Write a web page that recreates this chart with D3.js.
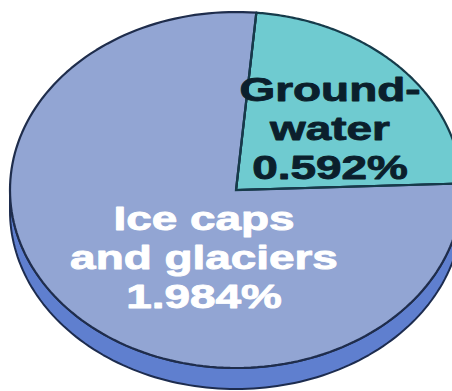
<!DOCTYPE html>
<html>
<head>
<meta charset="utf-8">
<script src="https://cdn.jsdelivr.net/npm/d3@7"></script>
<style>
  html, body { margin: 0; padding: 0; background: #ffffff; }
  svg { display: block; }
</style>
</head>
<body>
<svg id="chart" width="452" height="391"></svg>
<script>
// Share of the Earth's fresh water held in ice and underground (percent of all water)
const categories = ["Groundwater", "Ice caps and glaciers"];
const values = [0.592, 1.984];
const labelLines = [["Ground-", "water", "0.592%"], ["Ice caps", "and glaciers", "1.984%"]];
const fills = ["#6fcbd0", "#92a5d3"];
const textColors = ["#0b1f2c", "#ffffff"];

const W = 452, H = 391;
const cx = 236, cy = 190;       // centre of the top face
const rx = 226, ry = 178;       // tilted disc radii
const depth = 21;               // thickness of the disc
const rotation = 0.09;          // first slice starts just right of 12 o'clock

const svg = d3.select("#chart");

const pie = d3.pie().sort(null).value(d => d)
  .startAngle(rotation).endAngle(rotation + 2 * Math.PI);
const arcs = pie(values);

// project a polar angle (d3 convention: 0 = up, clockwise) onto the tilted disc
const proj = (a, f = 1, dz = 0) => [cx + rx * f * Math.sin(a), cy - ry * f * Math.cos(a) + dz];
const line = d3.line();

function sample(a0, a1, n, dz = 0) {
  return d3.range(n + 1).map(i => proj(a0 + (a1 - a0) * i / n, 1, dz));
}

// front wall of the disc (angles pi/2 .. 3pi/2 face the viewer)
const wallTop = sample(Math.PI / 2, 3 * Math.PI / 2, 120);
const wallBot = sample(3 * Math.PI / 2, Math.PI / 2, 120, depth);
svg.append("path")
  .attr("d", line(wallTop.concat(wallBot)) + "Z")
  .attr("fill", "#5f7fcf")
  .attr("stroke", "#1d2c4f")
  .attr("stroke-width", 2)
  .attr("stroke-linejoin", "round");

// top face slices
const g = svg.append("g");
arcs.forEach((d, i) => {
  const pts = [[cx, cy]].concat(sample(d.startAngle, d.endAngle, 160));
  g.append("path")
    .attr("d", line(pts) + "Z")
    .attr("fill", fills[i])
    .attr("stroke", i === 0 ? "#163b4a" : "#1f2d4c")
    .attr("stroke-width", 2.2)
    .attr("stroke-linejoin", "round");
});
// redraw the groundwater edges on top so the shared borders stay dark teal
{
  const d = arcs[0];
  const pts = [proj(d.startAngle), [cx, cy], proj(d.endAngle)];
  g.append("path")
    .attr("d", line(pts))
    .attr("fill", "none")
    .attr("stroke", "#163b4a")
    .attr("stroke-width", 2.2);
}

// labels, set in a wide heavy face
const labelPos = [[330, 101], [204, 230]];
const lineGap = 39;
arcs.forEach((d, i) => {
  const [lx, ly] = labelPos[i];
  const t = svg.append("text")
    .attr("transform", `translate(${lx},${ly}) scale(1.35,1)`)
    .attr("text-anchor", "middle")
    .attr("font-family", "'Liberation Sans', Arial, sans-serif")
    .attr("font-weight", "bold")
    .attr("font-size", 34)
    .attr("fill", textColors[i])
    .attr("stroke", textColors[i])
    .attr("stroke-width", 0.9)
    .attr("stroke-linejoin", "round");
  labelLines[i].forEach((s, k) => {
    t.append("tspan").attr("x", 0).attr("y", k * lineGap).text(s);
  });
});
</script>
</body>
</html>
